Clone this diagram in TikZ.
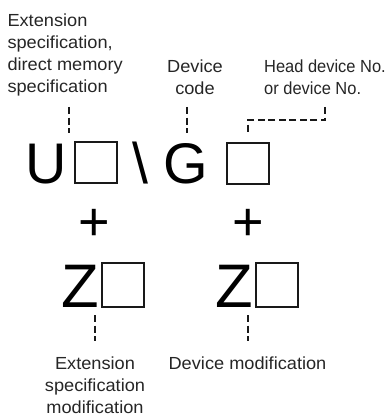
\documentclass[tikz,border=0pt]{standalone}
\usepackage{fontspec}
\setmainfont{Liberation Sans}
\newfontfamily\labfont[FakeStretch=1.04]{Liberation Sans}
\newfontfamily\narfont[FakeStretch=0.94]{Liberation Sans}
\begin{document}
\begin{tikzpicture}[x=1pt,y=-1pt,
  lab/.style={inner sep=0pt, font=\labfont\fontsize{17.5}{22}\selectfont, text=black!85},
  narlab/.style={lab, font=\narfont\fontsize{17.5}{22}\selectfont},
  big/.style={inner sep=0pt, font=\fontsize{57.3}{60}\selectfont, anchor=base},
  bigz/.style={inner sep=0pt, font=\fontsize{61.5}{64}\selectfont, anchor=base},
  plus/.style={inner sep=0pt, font=\fontsize{54}{56}\selectfont, anchor=base},
  slot/.style={draw=black!90, line width=2pt},
  lead/.style={draw=black!90, line width=2pt, dash pattern=on 7pt off 3.5pt}]
\useasboundingbox (0,0) rectangle (390,417);
% top labels
\node[lab, anchor=north west, align=left] (ext) at (7.3,13.3) {Extension\\specification,\\direct memory\\specification};
\node[lab, anchor=north, align=center] (dev) at (195,59.3) {Device\\code};
\node[narlab, anchor=north west, align=left] (head) at (264,59.3) {Head device No.\\or device No.};
% big characters
\node[big] (U) at (46.5,183) {U};
\draw[slot] (75,142) rectangle (117,183) node[midway] (ubox) {};
\node[big] (bs) at (140.5,183) {\textbackslash};
\node[big] (G) at (186,183) {G};
\draw[slot] (227,143) rectangle (269,184) node[midway] (gbox) {};
% plus signs
\node[plus] (p1) at (94.5,240) {+};
\node[plus] (p2) at (248.5,240) {+};
% Z
\node[bigz] (Z1) at (80.5,307) {Z};
\draw[slot] (102,263) rectangle (144,307) node[midway] (zbox1) {};
\node[bigz] (Z2) at (234.5,307) {Z};
\draw[slot] (256,263) rectangle (298,307) node[midway] (zbox2) {};
% bottom labels
\node[lab, anchor=north, align=center] (extmod) at (95,356.7) {Extension\\specification\\modification};
\node[lab, anchor=north] (devmod) at (247.5,356.7) {Device modification};
% leaders
\coordinate (a1) at (69,107); \coordinate (a2) at (69,133);
\coordinate (b1) at (187,107); \coordinate (b2) at (187,133);
\coordinate (c1) at (325,107); \coordinate (c2) at (325,120);
\coordinate (c3) at (248,120); \coordinate (c4) at (248,133);
\coordinate (d1) at (95,315); \coordinate (d2) at (95,341);
\coordinate (e1) at (248,315); \coordinate (e2) at (248,341);
\draw[lead] (a1) -- (a2);
\draw[lead] (b1) -- (b2);
\draw[lead] (c1) -- (c2) -- (c3) -- (c4);
\draw[lead] (d1) -- (d2);
\draw[lead] (e1) -- (e2);
\end{tikzpicture}
\end{document}
